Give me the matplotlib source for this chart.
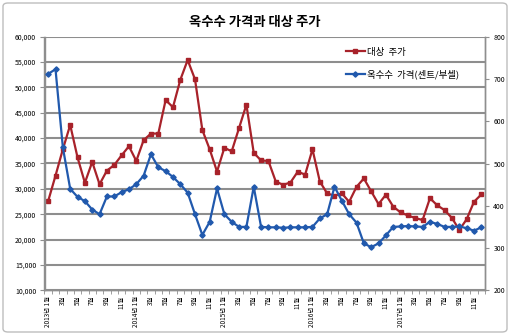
import matplotlib.pyplot as plt
from matplotlib.patches import FancyBboxPatch
from matplotlib.ticker import FuncFormatter
import numpy as np

plt.rcParams['font.family'] = ['Noto Sans CJK KR', 'DejaVu Sans']

# 2013년 1월 ~ 2017년 12월 (월별)
years = [2013, 2014, 2015, 2016, 2017]
months = [(y, m) for y in years for m in range(1, 13)]

stock = [27600, 32600, 37800, 42600, 36200, 31200, 35300, 30900, 33600, 34700, 36600, 38400,
         35500, 39600, 40900, 40900, 47500, 46100, 51500, 55400, 51600, 41600, 37800, 33400,
         38100, 37400, 42000, 46600, 37100, 35600, 35500, 31450, 30800, 31250, 33400, 32800,
         37800, 31450, 29100, 28650, 29100, 27450, 30400, 32050, 29500, 27000, 28850, 26500,
         25350, 24750, 24250, 23850, 28150, 26750, 25800, 24250, 21900, 24000, 27450, 28900]

corn = [712, 723, 538, 440, 421, 411, 391, 380, 422, 422, 432, 439,
        451, 471, 522, 491, 482, 468, 451, 431, 380, 331, 362, 441,
        380, 362, 350, 350, 445, 350, 349, 349, 348, 349, 349, 349,
        350, 370, 380, 445, 412, 380, 360, 311, 302, 311, 330, 350,
        351, 352, 351, 350, 362, 357, 350, 350, 351, 347, 341, 349]

tick_labels = []
for y, m in months:
    if m % 2 == 1:
        tick_labels.append(f'{y}년 {m}월' if m == 1 else f'{m}월')

red = '#A8222A'
blue = '#2159AD'
grid_c = '#8E8E8E'

fig = plt.figure(figsize=(5.1, 3.35), dpi=100)
ax = fig.add_axes([44.5/510, 1-290.3/335, 440.5/510, 253.6/335])
ax2 = ax.twinx()

x = np.arange(len(months))
ax.plot(x, stock, color=red, lw=1.6, marker='s', ms=3.3, label='대상  주가', zorder=3)
ax2.plot(x, corn, color=blue, lw=1.6, marker='D', ms=2.7, label='옥수수  가격(센트/부셀)', zorder=3)

ax.set_xlim(-0.5, len(months)-0.5)
ax.set_ylim(10000, 60000)
ax.set_yticks(np.arange(10000, 60001, 5000))
ax.yaxis.set_major_formatter(FuncFormatter(lambda v, p: f'{int(v):,}'))
ax2.set_ylim(200, 800)
ax2.set_yticks(np.arange(200, 801, 100))

ax.set_xticks(x[::2])
ax.set_xticklabels(tick_labels, rotation=90, fontsize=4.6)
ax.set_xticks(np.arange(-0.5, len(months), 1), minor=True)
ax.tick_params(axis='x', which='major', length=0, pad=4)
ax.tick_params(axis='x', which='minor', length=3, color=grid_c)
ax.tick_params(axis='y', labelsize=5, length=3, color=grid_c, pad=3)
ax2.tick_params(axis='y', labelsize=5, length=3, color=grid_c, pad=3)

ax.grid(axis='y', color=grid_c, lw=1.5)
ax.set_axisbelow(True)
for a in (ax, ax2):
    for s in a.spines.values():
        s.set_color(grid_c)
        s.set_linewidth(1.0)
    a.spines['top'].set_visible(False)

h1, l1 = ax.get_legend_handles_labels()
h2, l2 = ax2.get_legend_handles_labels()
leg = ax2.legend(h1 + h2, l1 + l2, loc='upper left', bbox_to_anchor=(0.665, 0.99),
                 frameon=False, fontsize=6.8, handlelength=2.0, labelspacing=1.35,
                 handletextpad=0.2)

fig.text(0.5, 1-22/335, '옥수수 가격과 대상 주가', ha='center', va='center',
         fontsize=9.6, fontweight='bold')

border = FancyBboxPatch((3/510, 3/335), 504/510, 329/335, boxstyle='round,pad=0,rounding_size=0.01',
                        transform=fig.transFigure, fill=False, ec='#BDBDBD', lw=1.0)
fig.patches.append(border)

fig.savefig('out.png', dpi=100)
